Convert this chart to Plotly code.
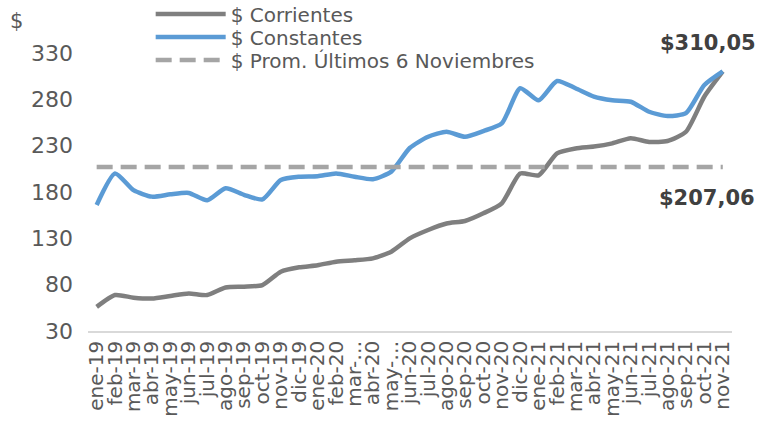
import plotly.graph_objects as go

months = ["ene-19","feb-19","mar-19","abr-19","may-19","jun-19","jul-19","ago-19","sep-19","oct-19",
          "nov-19","dic-19","ene-20","feb-20","mar-20","abr-20","may-20","jun-20","jul-20","ago-20",
          "sep-20","oct-20","nov-20","dic-20","ene-21","feb-21","mar-21","abr-21","may-21","jun-21",
          "jul-21","ago-21","sep-21","oct-21","nov-21"]
tick_labels = ["ene-19","feb-19","mar-19","abr-19","may-19","jun-19","jul-19","ago-19","sep-19","oct-19",
               "nov-19","dic-19","ene-20","feb-20","mar-…","abr-20","may-…","jun-20","jul-20","ago-20",
               "sep-20","oct-20","nov-20","dic-20","ene-21","feb-21","mar-21","abr-21","may-21","jun-21",
               "jul-21","ago-21","sep-21","oct-21","nov-21"]

corrientes = [56, 68.8, 66, 65, 67.8, 70.5, 68.8, 77, 77.8, 79.6,
              94, 98.7, 101, 104.8, 106.3, 108.4, 115.6, 130, 139, 146,
              148.7, 157, 167.8, 200, 198, 221.7, 227, 229, 232.5, 238,
              234, 235, 245, 283, 310.05]
constantes = [166, 200, 182, 175, 177.5, 179, 171, 184, 177, 172,
              193, 196.5, 197, 200, 196.5, 193.7, 202, 227.5, 239.6, 245,
              239.6, 245.8, 254, 292, 279, 299.8, 292, 283, 279, 277.4,
              266.6, 262, 265, 295.4, 310.05]
promedio = 207.06

FONT = "DejaVu Sans"
TXT = "#595959"

fig = go.Figure()
fig.add_trace(go.Scatter(x=months, y=corrientes, name="$ Corrientes", mode="lines", legend="legend",
                         line=dict(color="#7f7f7f", width=4.5, shape="spline", smoothing=0.6)))
fig.add_trace(go.Scatter(x=months, y=constantes, name="$ Constantes", mode="lines", legend="legend2",
                         line=dict(color="#5b9bd5", width=4.5, shape="spline", smoothing=0.6)))
fig.add_trace(go.Scatter(x=months, y=[promedio] * len(months), name="$ Prom. Últimos 6 Noviembres",
                         mode="lines", legend="legend3",
                         line=dict(color="#a5a5a5", width=4.5, dash="16px,8px")))

fig.add_annotation(x=months[-1], y=constantes[-1], text="<b>$310,05</b>", showarrow=False,
                   xanchor="right", yanchor="bottom", xshift=35, yshift=14,
                   font=dict(family=FONT, size=21, color="#404040"))
fig.add_annotation(x=months[-1], y=promedio, text="<b>$207,06</b>", showarrow=False,
                   xanchor="right", yanchor="top", xshift=34, yshift=-17,
                   font=dict(family=FONT, size=21, color="#404040"))
fig.add_annotation(xref="paper", yref="paper", x=-0.124, y=1.065, text="$", showarrow=False,
                   xanchor="left", yanchor="bottom",
                   font=dict(family=FONT, size=21, color=TXT))

leg_common = dict(xref="container", yref="container", x=0.198, xanchor="left", yanchor="middle",
                  font=dict(family=FONT, size=20, color=TXT),
                  bgcolor="rgba(0,0,0,0)", itemwidth=70)

fig.update_layout(
    width=761, height=430,
    margin=dict(l=88, r=29, t=53, b=99, autoexpand=False),
    paper_bgcolor="white", plot_bgcolor="white",
    font=dict(family=FONT, color=TXT),
    showlegend=True,
    legend=dict(y=1 - 14 / 430, **leg_common),
    legend2=dict(y=1 - 37 / 430, **leg_common),
    legend3=dict(y=1 - 60 / 430, **leg_common),
    xaxis=dict(type="category", tickmode="array", tickvals=months, ticktext=tick_labels,
               range=[-0.47, 34.5],
               tickangle=-90, tickfont=dict(family=FONT, size=20, color=TXT),
               showgrid=False, showline=True, linecolor="#d9d9d9", linewidth=1.5,
               ticks="", zeroline=False, automargin=False),
    yaxis=dict(range=[30, 330], tickvals=[30, 80, 130, 180, 230, 280, 330],
               tickfont=dict(family=FONT, size=22, color=TXT),
               showgrid=False, showline=False, zeroline=False, ticks="",
               ticklabelstandoff=14, automargin=False),
)

fig.write_html("out.html", config={"displayModeBar": False},
               post_script="document.body.style.margin='0';document.body.style.overflow='hidden';")
